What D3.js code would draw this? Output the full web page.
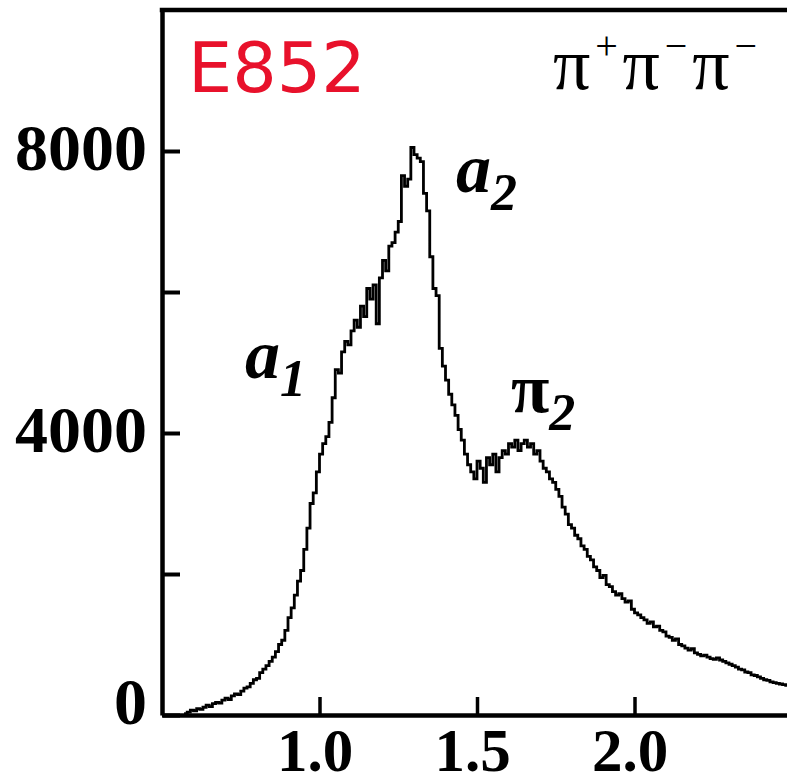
<!DOCTYPE html>
<html>
<head>
<meta charset="utf-8">
<script src="https://cdn.jsdelivr.net/npm/d3@7"></script>
<style>
  html, body { margin: 0; padding: 0; background: #fff; }
  svg { display: block; }
</style>
</head>
<body>
<svg id="chart" width="787" height="781"></svg>
<script>
// ---- data (mass bins in GeV, events per bin) ----
const massStart = 0.57;
const massStep = 0.01;
const counts = [
  20, 40, 70, 60, 90, 80, 110, 140, 120, 160,
  180, 170, 210, 240, 220, 270, 300, 290, 340, 380,
  400, 450, 500, 520, 600, 650, 700, 760, 820, 900,
  1000, 1060, 1200, 1380, 1520, 1700, 1900, 2050, 2350, 2650,
  3000, 3150, 3450, 3700, 3850, 3950, 4150, 4500, 4900, 4850,
  5150, 5300, 5250, 5450, 5600, 5500, 5800, 5650, 6050, 5900,
  6100, 5550, 6200, 6450, 6300, 6650, 6700, 6850, 7000, 7650,
  7500, 7600, 8050, 7950, 7900, 7850, 7400, 7150, 6500, 6050,
  5950, 5200, 4950, 4750, 4550, 4400, 4250, 4050, 3900, 3700,
  3550, 3450, 3350, 3600, 3500, 3300, 3650, 3550, 3700, 3450,
  3650, 3750, 3700, 3850, 3800, 3900, 3750, 3850, 3900, 3800,
  3850, 3700, 3750, 3600, 3500, 3450, 3350, 3300, 3200, 3100,
  2950, 2850, 2700, 2650, 2550, 2500, 2400, 2350, 2250, 2200,
  2100, 2050, 1950, 1980, 1850, 1820, 1750, 1700, 1720, 1650,
  1600, 1620, 1500, 1450, 1420, 1380, 1350, 1300, 1320, 1250,
  1260, 1200, 1180, 1120, 1100, 1060, 1080, 1000, 980, 950,
  920, 940, 880, 860, 840, 850, 820, 800, 790, 810,
  780, 760, 740, 720, 700, 680, 650, 640, 610, 600,
  570, 560, 540, 520, 500, 490, 470, 460, 450, 440,
  430, 420, 410
];
const masses = counts.map((_, i) => +(massStart + i * massStep).toFixed(2));

const yTickValues = [0, 2000, 4000, 6000, 8000];
const yTickLabels = ["0", "", "4000", "", "8000"];
const xTickValues = [1.0, 1.5, 2.0];
const xTickLabels = ["1.0", "1.5", "2.0"];

const xDomain = [0.5, 2.5];
const yDomain = [0, 10000];

// ---- layout ----
const svg = d3.select("#chart");
const mLeft = 162, mRight = 792, mTop = 10, mBottom = 715;

const x = d3.scaleLinear().domain(xDomain).range([mLeft, mRight]);
const y = d3.scaleLinear().domain(yDomain).range([mBottom, mTop]);

const serif = "'Liberation Serif', 'Times New Roman', serif";

// curve
const line = d3.line()
  .x((d, i) => x(masses[i]))
  .y(d => y(d))
  .curve(d3.curveStepAfter);

svg.append("path")
  .datum(counts)
  .attr("d", line)
  .attr("fill", "none")
  .attr("stroke", "#000")
  .attr("stroke-width", 2.8)
  .attr("stroke-linejoin", "miter");

// Y axis
const yAxis = d3.axisLeft(y)
  .tickValues(yTickValues)
  .tickSizeInner(-18)
  .tickSizeOuter(0)
  .tickPadding(15)
  .tickFormat((d, i) => yTickLabels[i]);

const gy = svg.append("g").attr("transform", `translate(${mLeft},0)`).call(yAxis);
gy.select(".domain").attr("stroke", "#000").attr("stroke-width", 4.5);
gy.selectAll(".tick line").attr("stroke", "#000").attr("stroke-width", 4);
gy.selectAll(".tick").filter(d => yTickLabels[yTickValues.indexOf(d)] === "").select("text").remove();
gy.selectAll(".tick text")
  .attr("fill", "#000")
  .attr("font-family", serif)
  .attr("font-weight", "bold")
  .attr("font-size", 66)
  .attr("dy", null)
  .attr("y", d => d === 0 ? 8 : 18);

// X axis
const xAxis = d3.axisBottom(x)
  .tickValues(xTickValues)
  .tickSizeInner(-18)
  .tickSizeOuter(0)
  .tickPadding(15)
  .tickFormat((d, i) => xTickLabels[i]);

const gx = svg.append("g").attr("transform", `translate(0,${mBottom})`).call(xAxis);
gx.select(".domain").attr("stroke", "#000").attr("stroke-width", 4.5);
gx.selectAll(".tick line").attr("stroke", "#000").attr("stroke-width", 3.5);
gx.selectAll(".tick text")
  .attr("fill", "#000")
  .attr("font-family", serif)
  .attr("font-weight", "bold")
  .attr("font-size", 61)
  .attr("dy", null)
  .attr("x", -5)
  .attr("y", 56);

// top frame line
svg.append("line")
  .attr("x1", mLeft - 2.25).attr("x2", 790)
  .attr("y1", mTop).attr("y2", mTop)
  .attr("stroke", "#000").attr("stroke-width", 4.5);

// E852 label
svg.append("text")
  .attr("x", 188).attr("y", 92)
  .attr("fill", "#e8112b")
  .attr("font-family", "'DejaVu Sans', sans-serif")
  .attr("font-size", 70)
  .text("E852");

// channel label pi+ pi- pi-
const ch = svg.append("text")
  .attr("x", 553).attr("y", 89)
  .attr("font-family", serif)
  .attr("font-size", 74)
  .attr("fill", "#000")
  .attr("textLength", 204)
  .attr("lengthAdjust", "spacing");
const parts = [["π", "+"], ["π", "−"], ["π", "−"]];
parts.forEach(([base, sup], i) => {
  ch.append("tspan").attr("dy", i === 0 ? 0 : 30).text(base);
  ch.append("tspan").attr("font-size", 40).attr("dy", -30).text(sup);
});

// resonance labels
function resonance(xp, yp, base, sub, italic) {
  const t = svg.append("text")
    .attr("x", xp).attr("y", yp)
    .attr("font-family", serif)
    .attr("font-weight", "bold")
    .attr("font-size", 70)
    .attr("fill", "#000");
  t.append("tspan").attr("font-style", italic ? "italic" : "normal").text(base);
  t.append("tspan").attr("font-style", "italic").attr("font-size", 52).attr("dy", 18).text(sub);
}
resonance(456, 192, "a", "2", true);
resonance(245, 378, "a", "1", true);
resonance(511, 412, "π", "2", false);
</script>
</body>
</html>
